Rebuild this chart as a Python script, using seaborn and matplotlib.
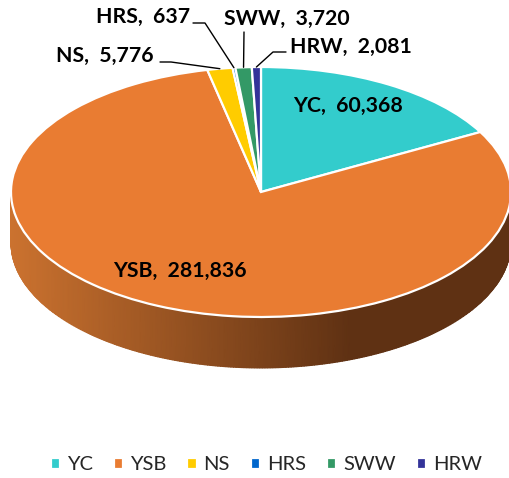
import matplotlib
matplotlib.use('Agg')
import matplotlib.pyplot as plt
from matplotlib.colors import LinearSegmentedColormap
import numpy as np
import seaborn as sns

# Dados
CLASSES = ['YC', 'YSB', 'NS', 'HRS', 'SWW', 'HRW']
VALORES = [60368, 281836, 5776, 637, 3720, 2081]
CORES = ['#33CCCC', '#E97C32', '#FFCC00', '#0066CC', '#339966', '#333399']

# Layout da pizza em pixels
W, H = 510, 478
CX, CY, RX, RY = 261, 192, 250, 125
DEPTH_PX = 51

sns.set_theme(style='white')
plt.rcParams['font.family'] = ['Lato', 'DejaVu Sans']


def data_x(px):
    return (px - CX) / RX


def data_y(py):
    return (CY - py) / RY


fig = plt.figure(figsize=(W / 100, H / 100), dpi=100)
ax = fig.add_axes([0, 0, 1, 1])

wedges, _ = ax.pie(
    VALORES,
    colors=sns.color_palette(CORES),
    startangle=90,
    counterclock=False,
    radius=1,
    wedgeprops=dict(edgecolor='white', linewidth=1.6, zorder=2),
)
ax.set_aspect('auto')
ax.set_xlim(data_x(0), data_x(W))
ax.set_ylim(data_y(H), data_y(0))

# Lateral 3D com degradê
theta = np.linspace(np.pi, 2 * np.pi, 300)
side_x = np.cos(theta)
side_top = np.sin(theta)
side_bottom = side_top - DEPTH_PX / RY
X = np.vstack([side_x, side_x])
Y = np.vstack([side_top, side_bottom])
cmap = LinearSegmentedColormap.from_list(
    'lateral', [(0, '#CB722F'), (0.68, '#5F3113'), (1, '#5F3113')]
)
ax.pcolormesh(X, Y, X, cmap=cmap, shading='gouraud', zorder=0, vmin=-1, vmax=1)

# Rótulos
ROTULOS = {
    'YC': (293, 106),
    'YSB': (113, 271),
    'NS': (56, 56),
    'HRS': (96, 17),
    'SWW': (224, 19),
    'HRW': (290, 47),
}
for nome, valor in zip(CLASSES, VALORES):
    px, py = ROTULOS[nome]
    ax.text(data_x(px), data_y(py), f'{nome},  {valor:,}', fontsize=15.3,
            fontweight='bold', color='black', ha='left', va='center')

# Linhas de chamada: vão até o ponto médio de cada fatia na borda
CHAMADAS = {
    'NS': [(160, 62), (171, 62)],
    'HRS': [(193, 23), (205, 23)],
    'SWW': [(244, 32)],
    'HRW': [(286, 52), (273, 52)],
}
acumulado = np.cumsum(VALORES)
total = acumulado[-1]
for nome, pontos in CHAMADAS.items():
    i = CLASSES.index(nome)
    meio = (acumulado[i] - VALORES[i] / 2) / total * 2 * np.pi
    xs = [data_x(p[0]) for p in pontos] + [np.sin(meio)]
    ys = [data_y(p[1]) for p in pontos] + [np.cos(meio)]
    ax.plot(xs, ys, color='black', linewidth=1.0, zorder=3)

ax.legend(
    wedges, CLASSES,
    loc='center', bbox_to_anchor=(0.5225, 1 - 465 / H),
    ncol=6, frameon=False, fontsize=14.5,
    handlelength=0.45, handleheight=0.45, handletextpad=0.35,
    columnspacing=1.05, borderpad=0, borderaxespad=0,
)

plt.savefig('out.png', dpi=100)
plt.close(fig)
